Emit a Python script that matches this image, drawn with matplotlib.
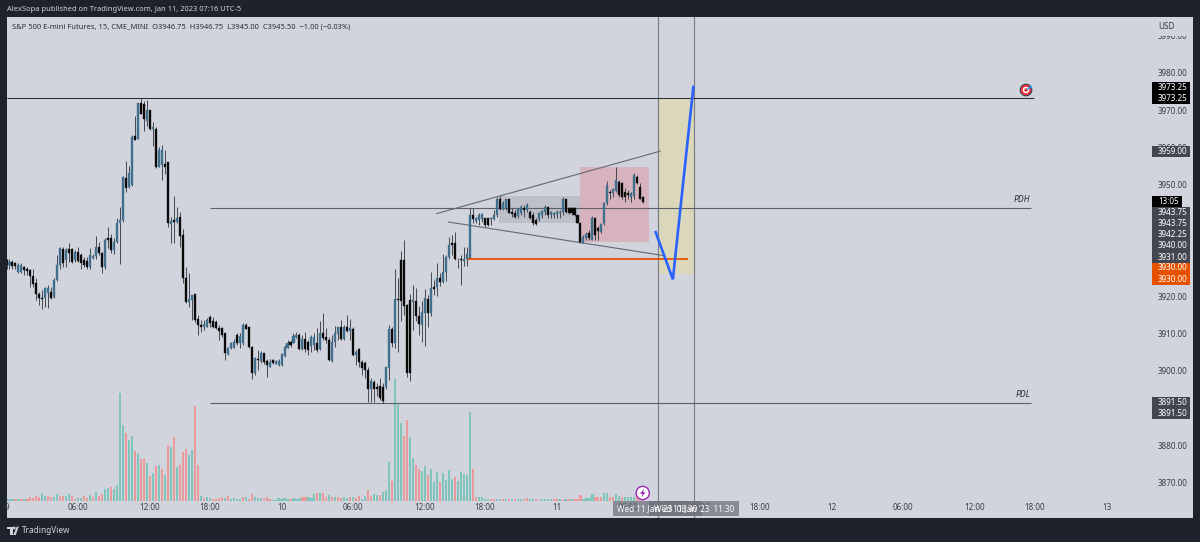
import matplotlib
matplotlib.use("Agg")
import matplotlib.pyplot as plt
from matplotlib.patches import Rectangle, Circle, Polygon
from matplotlib.transforms import Affine2D

plt.rcParams['font.family'] = ['Noto Sans', 'DejaVu Sans']

highs = [3930.2,3930.0,3929.8,3929.3,3928.9,3929.1,3928.2,3928.0,3927.5,3927.5,
3924.9,3921.3,3921.7,3922.6,3923.1,3922.6,3924.9,3931.1,3933.4,3933.4,
3932.9,3934.4,3932.9,3932.5,3933.4,3931.6,3930.7,3930.7,3932.9,3931.4,
3936.3,3934.7,3932.0,3935.6,3938.6,3936.9,3935.6,3941.2,3944.1,3952.3,
3956.5,3954.9,3963.4,3968.5,3972.0,3973.25,3972.6,3972.8,3970.1,3966.9,
3965.4,3960.2,3960.7,3959.3,3956.2,3941.4,3947.0,3944.1,3942.8,3938.0,
3928.0,3926.4,3920.4,3920.8,3915.0,3913.7,3913.7,3914.1,3915.0,3914.6,
3913.7,3912.3,3911.9,3910.3,3906.5,3907.9,3908.5,3910.1,3910.1,3912.8,
3912.8,3912.1,3906.7,3903.8,3905.6,3905.4,3904.9,3903.1,3903.1,3903.1,
3902.9,3903.1,3904.7,3907.0,3908.3,3908.3,3910.1,3910.5,3910.1,3909.7,
3910.5,3908.3,3909.7,3910.1,3911.5,3913.5,3915.7,3911.5,3909.2,3909.7,
3912.1,3911.9,3913.7,3912.3,3915.0,3913.9,3911.7,3905.6,3906.3,3902.9,
3902.8,3901.1,3898.0,3897.6,3896.9,3898.0,3896.7,3901.1,3912.4,3911.9,
3927.3,3925.1,3932.3,3935.2,3918.0,3920.8,3923.1,3922.2,3917.5,3918.9,
3921.9,3920.4,3926.7,3924.4,3928.9,3926.2,3931.4,3931.1,3936.1,3936.5,
3937.4,3930.2,3931.1,3933.4,3933.4,3943.7,3943.7,3941.4,3942.3,3942.5,
3941.2,3941.2,3941.4,3943.2,3946.8,3947.0,3945.7,3946.3,3946.3,3943.7,
3943.2,3943.7,3944.6,3944.6,3945.0,3943.2,3942.8,3941.0,3942.8,3943.2,
3944.6,3944.1,3943.0,3942.8,3943.2,3943.2,3946.6,3946.3,3944.1,3943.9,
3944.1,3941.9,3939.8,3936.5,3937.4,3937.8,3941.6,3941.4,3938.9,3939.6,
3945.5,3951.1,3948.6,3949.0,3954.8,3951.3,3950.8,3949.0,3948.6,3948.1,
3953.1,3952.6,3950.4,3947.0]

lows = [3927.5,3927.5,3927.3,3927.5,3926.4,3926.4,3925.8,3925.8,3922.6,3922.6,
3919.0,3917.7,3916.6,3917.3,3916.8,3919.2,3919.5,3924.2,3927.5,3928.0,
3928.0,3929.3,3929.1,3929.3,3929.3,3927.5,3928.0,3927.5,3927.5,3930.0,
3930.2,3931.1,3926.2,3927.5,3932.9,3931.6,3931.4,3934.3,3928.7,3940.1,
3948.1,3949.0,3949.7,3962.0,3962.2,3969.0,3964.5,3965.8,3964.7,3960.4,
3954.4,3954.7,3951.3,3953.0,3938.7,3934.4,3934.4,3939.6,3933.4,3923.5,
3918.3,3917.3,3913.7,3913.2,3909.7,3910.5,3911.0,3911.7,3911.7,3911.5,
3911.2,3908.3,3909.2,3902.9,3904.3,3905.8,3906.1,3907.0,3906.3,3907.0,
3911.2,3906.3,3897.8,3898.9,3900.3,3902.2,3902.0,3898.3,3901.0,3901.9,
3901.9,3901.3,3901.3,3903.8,3906.1,3906.5,3907.4,3908.8,3905.6,3905.6,
3905.2,3904.3,3905.2,3905.6,3905.2,3905.6,3908.3,3907.4,3902.8,3902.5,
3906.5,3908.3,3908.3,3908.3,3910.5,3908.3,3904.0,3901.6,3901.1,3898.9,
3898.0,3891.75,3891.75,3891.75,3893.3,3892.2,3891.5,3895.1,3897.6,3906.5,
3906.3,3905.2,3913.5,3915.0,3898.5,3897.4,3911.0,3913.5,3909.7,3907.9,
3906.7,3911.9,3914.8,3920.4,3920.1,3922.8,3923.5,3924.2,3930.2,3931.1,
3929.8,3927.6,3923.1,3928.2,3928.2,3930.2,3939.8,3939.8,3939.2,3940.1,
3938.7,3938.9,3939.2,3940.5,3941.4,3943.2,3943.2,3943.2,3942.3,3941.4,
3941.0,3941.0,3941.9,3941.4,3942.8,3940.7,3939.2,3939.2,3940.4,3941.0,
3941.9,3941.0,3941.0,3941.2,3941.2,3941.2,3941.9,3942.5,3942.1,3941.9,
3941.6,3939.6,3934.4,3934.4,3935.2,3935.2,3935.3,3935.3,3935.2,3937.1,
3939.2,3944.6,3946.3,3946.8,3948.1,3946.8,3946.3,3945.5,3946.1,3945.5,
3946.1,3950.2,3946.1,3945.0]

opens = [3929.8,3928.5,3929.3,3929.1,3926.7,3926.7,3927.8,3927.5,3927.1,3925.5,
3923.5,3920.8,3919.5,3919.5,3921.0,3921.3,3919.8,3924.4,3928.5,3932.7,
3929.8,3932.7,3932.7,3929.8,3932.0,3931.1,3929.8,3929.6,3928.0,3930.4,
3930.9,3933.4,3931.8,3928.0,3935.6,3935.6,3932.5,3934.7,3939.6,3940.5,
3951.7,3949.5,3949.9,3963.1,3962.2,3972.0,3971.7,3967.2,3970.1,3964.9,
3965.1,3954.8,3955.3,3955.6,3956.2,3939.5,3940.5,3940.1,3941.4,3936.5,
3925.1,3918.6,3919.0,3920.8,3913.9,3912.3,3911.9,3911.9,3914.4,3913.5,
3913.2,3911.5,3911.5,3910.1,3904.6,3906.1,3906.3,3909.7,3907.4,3907.4,
3912.3,3911.7,3906.5,3899.4,3903.1,3902.8,3904.7,3902.8,3901.1,3902.9,
3902.0,3901.6,3901.6,3904.0,3906.3,3907.9,3907.6,3909.2,3909.7,3905.8,
3908.5,3907.9,3906.7,3907.0,3907.4,3905.8,3910.3,3909.2,3908.3,3902.8,
3907.9,3909.9,3911.9,3908.5,3911.7,3910.8,3911.2,3904.3,3905.8,3902.5,
3902.2,3900.3,3895.3,3897.1,3895.8,3896.0,3895.8,3895.8,3900.7,3911.4,
3907.4,3919.2,3929.8,3929.8,3917.7,3919.1,3918.4,3918.9,3914.8,3912.3,
3915.5,3919.2,3915.5,3922.5,3922.5,3924.9,3924.0,3926.7,3930.5,3934.3,
3934.3,3930.2,3930.2,3929.6,3930.2,3930.2,3941.9,3940.3,3940.5,3940.7,
3941.0,3941.0,3940.7,3940.7,3941.9,3946.1,3943.4,3943.7,3946.1,3942.8,
3942.5,3941.6,3942.5,3943.7,3943.2,3942.8,3941.9,3940.5,3940.7,3941.9,
3942.8,3943.9,3942.1,3941.9,3942.1,3942.5,3942.8,3946.1,3943.7,3943.7,
3943.7,3941.9,3939.8,3934.4,3935.6,3937.1,3935.3,3941.0,3938.3,3937.4,
3939.6,3945.0,3948.1,3947.9,3948.4,3950.8,3950.4,3948.1,3947.7,3946.8,
3947.0,3952.2,3949.3,3946.75]

closes = [3928.5,3929.3,3928.2,3928.2,3928.5,3928.5,3927.1,3926.9,3925.5,3923.4,
3920.8,3919.5,3919.3,3922.2,3922.2,3919.5,3924.4,3928.5,3932.9,3928.9,
3932.5,3931.6,3929.3,3932.0,3929.6,3929.1,3928.5,3928.0,3931.1,3930.9,
3933.4,3931.8,3928.0,3935.3,3935.2,3932.5,3934.7,3939.8,3940.5,3952.0,
3949.0,3953.1,3962.9,3962.0,3971.9,3969.0,3967.6,3970.1,3965.1,3965.6,
3954.7,3959.3,3959.3,3954.8,3939.6,3940.4,3940.1,3941.0,3936.2,3924.9,
3918.6,3919.2,3920.4,3913.7,3912.3,3911.9,3912.6,3913.7,3912.8,3911.9,
3911.5,3910.8,3909.7,3904.9,3906.1,3907.6,3907.9,3907.4,3909.4,3912.3,
3911.2,3906.5,3899.4,3903.4,3902.9,3904.9,3902.5,3901.6,3902.5,3902.2,
3902.8,3902.8,3904.6,3906.5,3907.4,3907.0,3909.4,3909.7,3905.8,3908.5,
3905.8,3905.6,3909.0,3909.0,3905.6,3910.1,3908.8,3908.3,3902.9,3907.9,
3910.1,3911.7,3908.5,3911.9,3910.8,3911.5,3904.3,3905.2,3902.5,3900.7,
3900.3,3895.3,3897.4,3895.3,3895.3,3892.7,3892.0,3901.0,3911.4,3907.4,
3919.2,3919.1,3918.9,3917.5,3899.5,3899.5,3919.1,3914.8,3912.5,3915.9,
3919.5,3915.5,3922.2,3921.9,3925.1,3924.0,3926.7,3930.5,3933.8,3933.8,
3930.0,3930.0,3929.8,3930.2,3931.4,3941.9,3940.7,3941.2,3941.9,3942.1,
3939.2,3939.2,3941.2,3941.9,3946.3,3943.4,3945.2,3946.1,3942.5,3942.1,
3941.4,3943.4,3944.1,3943.2,3944.6,3941.0,3939.6,3939.5,3942.5,3943.0,
3944.1,3941.9,3942.8,3942.5,3942.8,3942.8,3946.1,3942.8,3942.5,3942.3,
3941.9,3939.8,3934.7,3935.9,3936.8,3935.6,3941.2,3936.5,3937.7,3939.5,
3945.0,3949.9,3947.7,3948.8,3951.3,3947.2,3946.8,3946.6,3947.2,3947.7,
3952.6,3950.4,3946.3,3945.5]

volumes = [5,5,5,4,5,4,5,4,12,9,
14,10,23,15,15,10,12,19,15,14,
15,20,14,5,8,9,13,9,17,11,
25,15,20,35,38,41,35,47,322,227,
202,182,195,150,140,124,126,113,74,83,
104,106,96,78,167,161,190,100,107,146,
155,137,151,283,107,15,8,11,8,4,
5,8,10,9,15,5,8,6,5,10,
10,6,20,12,8,8,9,10,5,3,
3,7,4,7,6,5,7,5,9,10,
11,10,8,20,22,22,22,12,18,12,
12,12,7,10,8,10,12,8,15,6,
15,32,14,20,18,18,25,32,115,58,
365,293,232,195,241,192,127,108,95,90,
104,77,95,57,85,55,83,62,92,65,
70,60,85,80,76,265,95,12,10,10,
6,4,5,5,6,6,6,5,4,5,
6,5,4,5,7,4,4,5,3,4,
4,5,6,5,6,4,3,4,5,4,
5,6,16,5,7,8,20,12,10,10,
22,22,10,10,20,15,12,10,10,10,
10,14,8,3]

volume_dirs = ("gggrgrgrrr" "rrggrrggrr" "ggrrggrrgr" "grrggrgggg" "rggrgrrgrg"
               "rgrgrgrgrr" "rggrrgrggr" "rrrgrggggr" "grrgggrrrg" "gggggrgggr"
               "rgggrgrrgr" "grrggrgrrg" "grrggrgggr" "gggrrggrrg" "grgggrgggg"
               "rgggggrrgg" "ggrrggrgrg" "rggrrggrrg" "gggrrgrgrg" "rrrggggrrr"
               "ggrrggrggg" "grrr")

bars = list(range(len(closes)))

price_ticks = list(range(3870, 4000, 10))
time_tick_pos = [0, 24, 48, 68, 92, 116, 140, 160, 184, 208, 232, 252, 276, 300, 324, 344, 368]
time_tick_lab = ['9', '06:00', '12:00', '18:00', '10', '06:00', '12:00', '18:00', '11',
                 '06:00', '12:00', '18:00', '12', '06:00', '12:00', '18:00', '13']

pdh = 3943.75
pdl = 3891.5
top_level = 3973.25
entry_level = 3930.0
upper_chan_x, upper_chan_y = [143.9, 218.6], [3942.25, 3959.0]
lower_chan_x, lower_chan_y = [147.8, 219.7], [3940.0, 3931.0]
forecast_x, forecast_y = [217.0, 222.9, 229.8], [3937.6, 3924.6, 3976.6]

BG = '#d1d4dc'
DARK = '#1e222d'
W, H = 1200, 542
fig = plt.figure(figsize=(12, 5.42), dpi=100, facecolor=DARK)
px = Affine2D().scale(1, -1).translate(0, H)

L, R, T, B = 6.5, 1193.0, 17.0, 518.0
ax = fig.add_axes([L / W, (H - B) / H, (R - L) / W, (B - T) / H])
ax.set_xlim((L - 6.3) / 2.99, (R - 6.3) / 2.99)
ax.set_ylim(3980 - (B - 73) / 3.725, 3980 + (73 - T) / 3.725)

axv = ax.twinx()
axv.set_ylim(-(B - 500.7) * 3, (500.7 - T) * 3)
axv.set_yticks([])
axv.patch.set_visible(True)
axv.patch.set_facecolor(BG)
axv.set_zorder(1)
ax.set_zorder(2)
ax.patch.set_visible(False)
for a in (ax, axv):
    for s in a.spines.values():
        s.set_visible(False)
axv.bar(bars, volumes, width=0.72, linewidth=0,
        color=['#7fc5bb' if d == 'g' else '#ea9a9a' for d in volume_dirs])

ax.yaxis.tick_right()
ax.set_yticks(price_ticks)
ax.set_yticklabels([f'{p:.2f}' for p in price_ticks])
ax.tick_params(axis='y', length=0, pad=-25.2, labelsize=5.8, labelcolor='#3a3d47')
ax.set_xticks(time_tick_pos)
ax.set_xticklabels(time_tick_lab)
ax.tick_params(axis='x', length=0, pad=-10.8, labelsize=5.8, labelcolor='#3a3d47')

# drawings under the candles
ax.add_patch(Rectangle((164.8, 3939.8), 27.1, 3947.0 - 3939.8, fc='#787b86', alpha=0.22, lw=0, zorder=1))
ax.add_patch(Rectangle((191.9, 3934.6), 23.0, 3954.85 - 3934.6, fc='#f23645', alpha=0.2, lw=0, zorder=1))
ax.add_patch(Rectangle((217.9, 3926.0), 12.1, top_level - 3926.0, fc='#f0e070', alpha=0.3, lw=0, zorder=1))
for xv in (217.9, 230.0):
    ax.axvline(xv, color='#7a7c84', lw=0.85, zorder=2)

ax.hlines(top_level, ax.get_xlim()[0], 343.7, color='#2a2e39', lw=0.75, zorder=2)
ax.hlines([pdh, pdl], 68, 342.7, color='#5d606b', lw=0.8, zorder=2)
ax.plot(upper_chan_x, upper_chan_y, color='#6a6d78', lw=0.85, zorder=2)
ax.plot(lower_chan_x, lower_chan_y, color='#6a6d78', lw=0.85, zorder=2)

# candles
ax.vlines(bars, lows, highs, colors='#33363f', lw=0.62, zorder=3)
ax.bar(bars, [abs(c - o) for o, c in zip(opens, closes)],
       bottom=[min(o, c) for o, c in zip(opens, closes)], width=0.68, linewidth=0.25,
       color=['#3f6f8c' if c >= o else '#0a0a0a' for o, c in zip(opens, closes)],
       edgecolor=['#3f6f8c' if c >= o else '#0a0a0a' for o, c in zip(opens, closes)], zorder=4)

ax.hlines(entry_level, 154.5, 228, color='#e65100', lw=1.3, zorder=5)
ax.plot(forecast_x, forecast_y, color='#2962ff', lw=1.9, zorder=6, solid_capstyle='butt', solid_joinstyle='miter')

def t(x, y, s, **kw):
    kw.setdefault('va', 'center')
    kw.setdefault('ha', 'left')
    kw.setdefault('fontsize', 5.8)
    return fig.text(x, y, s, transform=px, zorder=20, **kw)

def box(x0, y0, x1, y1, fc, alpha=1.0, z=10):
    fig.add_artist(Rectangle((x0, y0), x1 - x0, y1 - y0, fc=fc, ec='none', alpha=alpha, transform=px, zorder=z))

t(7, 9.5, 'AlexSopa published on TradingView.com, Jan 11, 2023 07:16 UTC-5', color='#d1d4dc', fontsize=5.4)
t(12, 27, 'S&P 500 E-mini Futures, 15, CME_MINI  O3946.75  H3946.75  L3945.00  C3945.50  −1.00 (−0.03%)',
  color='#2a2e39', fontsize=5.42)

t(1014, 200, 'PDH', color='#2a2e39', fontstyle='italic', fontsize=6.2)
t(1015.5, 394.5, 'PDL', color='#2a2e39', fontstyle='italic', fontsize=6.2)

# price scale tags
box(1150, 22, 1192, 35.8, BG)
t(1158, 26.5, 'USD', color='#3a3d47')
TX0, TX1 = 1151.7, 1190.3
box(TX0, 81.7, TX1, 104, '#000000')
box(TX0, 145.5, TX1, 156.5, '#434651')
box(TX0, 195.5, 1181.7, 207, '#000000')
box(TX0, 207, TX1, 263, '#434651')
box(TX0, 263, TX1, 285, '#e65100')
box(TX0, 396.7, TX1, 418.7, '#434651')
tags = [(87.5, '3973.25'), (98.5, '3973.25'), (151, '3959.00'), (212.5, '3943.75'), (223.5, '3943.75'),
        (234.5, '3942.25'), (246, '3940.00'), (257, '3931.00'), (268, '3930.00'), (279, '3930.00'),
        (402.3, '3891.50'), (413.3, '3891.50')]
for y, s in tags:
    t(1158, y, s, color='#ffffff')
t(1158, 201.2, '13:05', color='#ffffff')

# time scale tags
box(613, 501, 702, 516, '#6a6d78', alpha=0.7)
box(649, 501, 739, 516, '#6a6d78', alpha=0.7)
t(657.5, 509, "Wed 11 Jan '23  08:30", color='#ffffff', ha='center')
t(694, 509, "Wed 11 Jan '23  11:30", color='#ffffff', ha='center')

# icons
fig.add_artist(Circle((1026, 90), 5.8, fc='#f23645', ec='#3a3d47', lw=0.8, transform=px, zorder=12))
fig.add_artist(Circle((1026, 90), 3.2, fc='#ffffff', ec='none', transform=px, zorder=13))
fig.add_artist(Circle((1026, 90), 1.7, fc='#d32f2f', ec='none', transform=px, zorder=14))
fig.add_artist(Polygon([(1026, 90), (1031, 85), (1032, 88)], fc='#2196f3', ec='none', transform=px, zorder=15))
fig.add_artist(Circle((642.7, 493), 6.6, fc='#ffffff', ec='#9c27b0', lw=1.0, transform=px, zorder=12))
fig.add_artist(Polygon([(644, 488.5), (640, 493.8), (642.5, 493.8), (641.5, 497.5), (645.5, 492.2), (643, 492.2)],
                       fc='#9c27b0', ec='none', transform=px, zorder=13))

# logo
LOGO = '#d1d4dc'
box(7, 526.5, 12.5, 529, LOGO, z=12)
box(9.7, 526.5, 12.5, 535, LOGO, z=12)
fig.add_artist(Circle((14.3, 528), 1.4, fc=LOGO, ec='none', transform=px, zorder=12))
fig.add_artist(Polygon([(15.8, 535), (18.7, 526.5), (16.8, 526.5), (13.3, 535)], fc=LOGO, ec='none', transform=px, zorder=12))
t(22, 530.8, 'TradingView', color='#d1d4dc', fontsize=5.9)

fig.savefig('out.png', dpi=100, facecolor=DARK)
